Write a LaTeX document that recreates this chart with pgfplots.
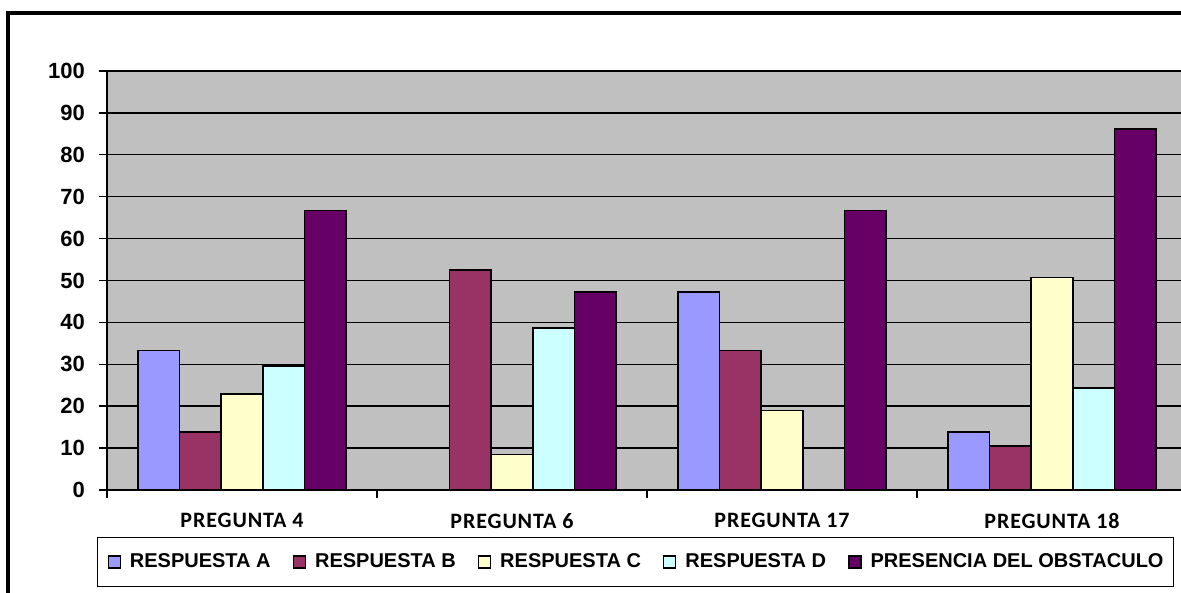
\documentclass[border=0pt]{standalone}
\usepackage{fontspec}
\setmainfont{Liberation Sans}
\newfontfamily\catfont[LetterSpace=4]{Carlito}
\usepackage{pgfplots}
\pgfplotsset{compat=1.18}
\definecolor{cA}{HTML}{9999FF}
\definecolor{cB}{HTML}{993366}
\definecolor{cC}{HTML}{FFFFCC}
\definecolor{cD}{HTML}{CCFFFF}
\definecolor{cE}{HTML}{660066}
\definecolor{plotbg}{HTML}{C0C0C0}
\begin{document}
\begin{tikzpicture}
\useasboundingbox (0pt,0pt) rectangle (590.5pt,296.5pt);
\draw[line width=2pt] (4pt,-10pt) |- (620pt,289.75pt);
\begin{axis}[
  at={(53.5pt,51.5pt)}, anchor=south west,
  scale only axis, width=537pt, height=209.5pt,
  axis background/.style={fill=plotbg},
  axis x line*=bottom, axis y line*=left,
  axis line style={black, line width=0.8pt},
  ybar=0pt, bar width=0.154,
  xmin=-0.5, xmax=3.478,
  ymin=0, ymax=100,
  ytick={0,10,...,100},
  ymajorgrids, grid style={black, line width=0.7pt},
  tick align=outside, major tick length=4pt,
  tick style={black, line width=0.7pt},
  xtick={-0.5,0.5,1.5,2.5}, xticklabels={{},{},{},{}},
  extra x ticks={0,1,2,3},
  extra x tick labels={PREGUNTA 4,PREGUNTA 6,PREGUNTA 17,PREGUNTA 18},
  extra x tick style={major tick length=0pt, grid=none,
     xticklabel style={font=\catfont\bfseries\fontsize{11}{13}\selectfont, yshift=-8pt}},
  /pgf/number format/assume math mode=true,
  yticklabel style={font=\bfseries\fontsize{11}{13}\selectfont, xshift=-3.5pt},
  legend columns=5,
  legend style={at={(axis description cs:0,0)}, anchor=north west,
     xshift=-5pt, yshift=-23.5pt,
     draw=black, line width=0.5pt, fill=white,
     font=\bfseries\fontsize{10}{12}\selectfont,
     inner xsep=5pt, inner ysep=8pt,
     nodes={inner sep=0pt, anchor=west},
     /tikz/every odd column/.append style={column sep=4.5pt},
     /tikz/every even column/.append style={column sep=11pt}},
  legend image code/.code={\draw[#1, line width=0.7pt] (0pt,-3pt) rectangle (6pt,3pt);},
  every axis plot/.append style={draw=black, line width=0.8pt},
]
\addplot[fill=cA] coordinates {(0,33.3) (2,47.3) (3,13.8)};
\addlegendentry{RESPUESTA A}
\addplot[fill=cB] coordinates {(0,13.9) (1,52.5) (2,33.3) (3,10.5)};
\addlegendentry{RESPUESTA B}
\addplot[fill=cC] coordinates {(0,22.9) (1,8.5) (2,19.0) (3,50.7)};
\addlegendentry{RESPUESTA C}
\addplot[fill=cD] coordinates {(0,29.6) (1,38.6) (3,24.3)};
\addlegendentry{RESPUESTA D}
\addplot[fill=cE] coordinates {(0,66.7) (1,47.3) (2,66.7) (3,86.1)};
\addlegendentry{PRESENCIA DEL OBSTACULO}
\end{axis}
\end{tikzpicture}
\end{document}
